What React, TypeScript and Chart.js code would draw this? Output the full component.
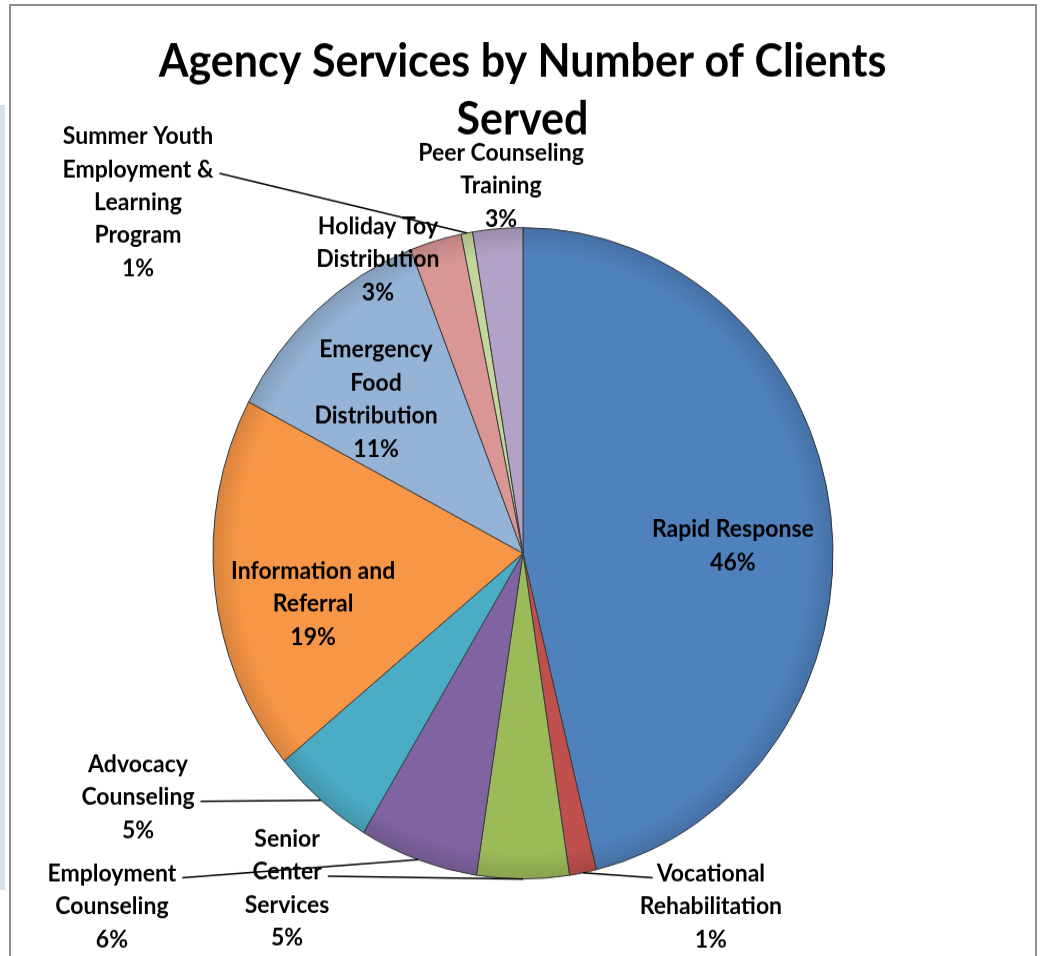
import React, { useEffect, useRef } from "react";
import { Chart, ArcElement, PieController } from "chart.js";

Chart.register(ArcElement, PieController);

// ---- data ----
const titleLines = ["Agency Services by Number of Clients", "Served"];

const services = [
  "Rapid Response",
  "Vocational Rehabilitation",
  "Senior Center Services",
  "Employment Counseling",
  "Advocacy Counseling",
  "Information and Referral",
  "Emergency Food Distribution",
  "Holiday Toy Distribution",
  "Summer Youth Employment & Learning Program",
  "Peer Counseling Training",
];

// share of clients served (percent)
const clientShare = [46.2, 1.4, 4.8, 6.2, 5.4, 18.7, 11.4, 2.7, 0.6, 2.6];

// wrapped label text (category name lines)
const labelLines = [
  ["Rapid Response"],
  ["Vocational", "Rehabilitation"],
  ["Senior", "Center", "Services"],
  ["Employment", "Counseling"],
  ["Advocacy", "Counseling"],
  ["Information and", "Referral"],
  ["Emergency", "Food", "Distribution"],
  ["Holiday Toy", "Distribution"],
  ["Summer Youth", "Employment &", "Learning", "Program"],
  ["Peer Counseling", "Training"],
];

const sliceColors = [
  "#4F81BD",
  "#C0504D",
  "#9BBB59",
  "#8064A2",
  "#4BACC6",
  "#F79646",
  "#95B3D7",
  "#D99694",
  "#C3D69B",
  "#B3A2C7",
];

// ---- layout (label centres relative to pie centre, in radius units) ----
type Place = { dx: number; dy: number; leader?: { line: number; side: "left" | "right" } };
const labelPlace: Place[] = [
  { dx: 0.677, dy: -0.023 },
  { dx: 0.606, dy: 1.085, leader: { line: 0, side: "left" } },
  { dx: -0.761, dy: 1.029, leader: { line: 1, side: "right" } },
  { dx: -1.326, dy: 1.085, leader: { line: 0, side: "right" } },
  { dx: -1.242, dy: 0.749, leader: { line: 1, side: "right" } },
  { dx: -0.677, dy: 0.156 },
  { dx: -0.474, dy: -0.473 },
  { dx: -0.468, dy: -0.903 },
  { dx: -1.242, dy: -1.078, leader: { line: 1, side: "right" } },
  { dx: -0.071, dy: -1.128 },
];

const W = 1045;
const H_DISPLAY = 956;
const STRETCH = 1.05;
const H = Math.round(H_DISPLAY / STRETCH);
const FONT = "Lato, 'Open Sans', sans-serif";

const labelPlugin = {
  id: "excelLabels",
  afterDatasetsDraw(chart: any) {
    const ctx = chart.ctx as CanvasRenderingContext2D;
    const meta = chart.getDatasetMeta(0);
    const a0 = meta.data[0];
    const { x: cx, y: cy, outerRadius: R } = a0.getProps(["x", "y", "outerRadius"], true);
    // soft bevel rim
    ctx.save();
    const g = ctx.createRadialGradient(cx, cy, R * 0.92, cx, cy, R);
    g.addColorStop(0, "rgba(0,0,0,0)");
    g.addColorStop(1, "rgba(0,0,0,0.13)");
    ctx.beginPath();
    ctx.arc(cx, cy, R, 0, Math.PI * 2);
    ctx.fillStyle = g;
    ctx.fill();
    ctx.restore();
  },
  afterDraw(chart: any) {
    const ctx = chart.ctx as CanvasRenderingContext2D;
    const meta = chart.getDatasetMeta(0);
    const a0 = meta.data[0];
    const { x: cx, y: cy, outerRadius: R } = a0.getProps(["x", "y", "outerRadius"], true);
    const total = clientShare.reduce((s, v) => s + v, 0);

    ctx.save();
    // title
    ctx.fillStyle = "#000";
    ctx.textAlign = "center";
    ctx.textBaseline = "middle";
    ctx.font = `bold 43px ${FONT}`;
    titleLines.forEach((t, i) => ctx.fillText(t, chart.width / 2, 59 + i * 55));

    // labels
    ctx.font = `bold 23px ${FONT}`;
    const lh = 31.4;
    labelLines.forEach((ln, i) => {
      const lines = [...ln, Math.round((clientShare[i] / total) * 100) + "%"];
      const p = labelPlace[i];
      const x = cx + p.dx * R;
      const yc = cy + p.dy * R;
      const n = lines.length;
      lines.forEach((t, k) => ctx.fillText(t, x, yc + (k - (n - 1) / 2) * lh));
      if (p.leader) {
        const arc = meta.data[i];
        const { startAngle, endAngle } = arc.getProps(["startAngle", "endAngle"], true);
        const mid = (startAngle + endAngle) / 2;
        const ex = cx + Math.cos(mid) * R;
        const ey = cy + Math.sin(mid) * R;
        const w = ctx.measureText(lines[p.leader.line]).width;
        const sy = yc + (p.leader.line - (n - 1) / 2) * lh + 4;
        const sx = p.leader.side === "right" ? x + w / 2 + 6 : x - w / 2 - 4;
        ctx.beginPath();
        ctx.moveTo(sx, sy);
        ctx.lineTo(ex, ey);
        ctx.strokeStyle = "#000";
        ctx.lineWidth = 1.5;
        ctx.stroke();
      }
    });
    ctx.restore();
  },
};

export default function App() {
  const ref = useRef<HTMLCanvasElement | null>(null);
  useEffect(() => {
    if (!ref.current) return;
    const cyPie = 553 / STRETCH;
    const R = 310.5;
    const chart = new Chart(ref.current, {
      type: "pie",
      data: {
        labels: services,
        datasets: [
          {
            data: clientShare,
            backgroundColor: sliceColors,
            borderColor: "#3a3a3a",
            borderWidth: 1,
          },
        ],
      },
      options: {
        responsive: false,
        animation: false,
        layout: {
          padding: {
            left: 523 - R,
            right: W - 523 - R,
            top: cyPie - R,
            bottom: H - cyPie - R,
          },
        },
        plugins: {
          legend: { display: false },
          tooltip: { enabled: false },
        },
      },
      plugins: [labelPlugin],
    });
    return () => chart.destroy();
  }, []);

  return (
    <div style={{ position: "absolute", left: 0, top: 0, width: W, height: H_DISPLAY, overflow: "hidden", background: "#fff" }}>
      <div style={{ position: "absolute", left: 0, top: 105, width: 5, height: 785, background: "#D6E2EE" }} />
      <div
        style={{
          position: "absolute",
          left: 9,
          top: 4,
          width: 1037 - 9,
          height: 1000,
          border: "2px solid #8E8E8E",
          boxSizing: "border-box",
        }}
      />
      <canvas
        ref={ref}
        width={W}
        height={H}
        style={{ position: "absolute", left: 0, top: 0, width: W + "px", height: H_DISPLAY + "px" }}
      />
    </div>
  );
}
